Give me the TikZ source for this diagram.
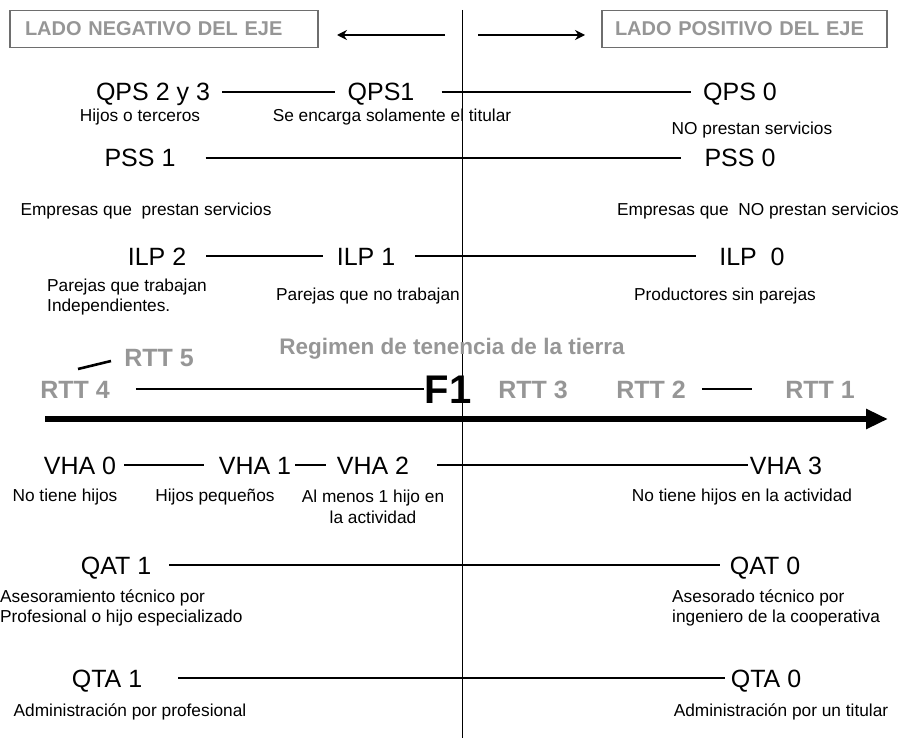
\documentclass[tikz,border=0pt]{standalone}
\usepackage{fontspec}
\setmainfont{Liberation Sans}
\usepackage{tikz}
\usetikzlibrary{arrows.meta}

\definecolor{axisgray}{RGB}{150,150,150}
\definecolor{boxgray}{RGB}{110,110,110}

\tikzset{
  big/.style={font=\fontsize{25}{30}\selectfont, text height=18pt, text depth=0pt, inner sep=0pt},
  rtt/.style={font=\fontsize{25}{30}\selectfont\bfseries, text=axisgray, text height=18pt, text depth=0pt, inner sep=0pt},
  note/.style={font=\fontsize{17.3}{20.5}\selectfont, inner sep=0pt, align=center},
  sidebox/.style={draw=boxgray, line width=1.3pt, font=\fontsize{20}{24}\selectfont\bfseries, text=axisgray, align=left, minimum height=37pt, inner ysep=0pt},
  link/.style={line width=2.6pt, shorten <=12pt, shorten >=12pt}
}

\begin{document}
\begin{tikzpicture}[x=1pt,y=-1pt]
\useasboundingbox (0,0) rectangle (902,738);

% cabecera
\node[sidebox, text width=278pt, inner xsep=15pt] (negbox) at (164,29) {LADO NEGATIVO DEL EJE};
\node[sidebox, text width=259pt, inner xsep=13pt] (posbox) at (744.5,29) {LADO POSITIVO DEL EJE};
\coordinate (lt) at (445,35); \coordinate (lh) at (337,35);
\coordinate (rt) at (478,35); \coordinate (rh) at (585,35);
\draw[line width=1.3pt, -{Stealth[length=10pt,width=10pt]}] (lt) -- (lh);
\draw[line width=1.3pt, -{Stealth[length=10pt,width=10pt]}] (rt) -- (rh);
\coordinate (vtop) at (462,10); \coordinate (vbot) at (462,738);
\draw[line width=1pt] (vtop) -- (vbot);

% QPS
\node[big] (qps23) at (153,92) {QPS 2 y 3};
\node[big] (qps1) at (381,92) {QPS1};
\node[big] (qps0) at (740,92) {QPS 0};
\draw[link] (qps23) -- (qps1);
\draw[link, shorten <=27pt] (qps1) -- (qps0);
\node[note] (qpsa) at (140,117) {Hijos o terceros};
\node[note] (qpsb) at (392,117) {Se encarga solamente el titular};
\node[note] (qpsc) at (752,130) {NO prestan servicios};

% PSS
\node[big] (pss1) at (140,158) {PSS 1};
\node[big] (pss0) at (740,158) {PSS 0};
\draw[link, shorten <=30pt, shorten >=23pt] (pss1) -- (pss0);
\node[note] (pssa) at (146,211) {Empresas que\ \ prestan servicios};
\node[note] (pssb) at (758,211) {Empresas que\ \ NO prestan servicios};

% ILP
\node[big] (ilp2) at (157,256) {ILP 2};
\node[big] (ilp1) at (366,256) {ILP 1};
\node[big] (ilp0) at (752,256) {ILP\ \ 0};
\draw[link, shorten <=20pt, shorten >=14pt] (ilp2) -- (ilp1);
\draw[link, shorten <=20pt, shorten >=23pt] (ilp1) -- (ilp0);
\node[note, anchor=west, align=left] (ilpa) at (47,297) {Parejas que trabajan\\Independientes.};
\node[note] (ilpb) at (368,296) {Parejas que no trabajan};
\node[note] (ilpc) at (725,296) {Productores sin parejas};

% RTT
\node[font=\fontsize{22.5}{26}\selectfont\bfseries, text=axisgray, inner sep=0pt] (reg) at (452,349) {Regimen de tenencia de la tierra};
\node[rtt] (rtt5) at (159,357) {RTT 5};
\node[rtt] (rtt4) at (75,389) {RTT 4};
\node[font=\fontsize{40}{44}\selectfont\bfseries, text height=29pt, text depth=0pt, inner sep=0pt] (f1) at (448,389) {F1};
\node[rtt] (rtt3) at (533,389) {RTT 3};
\node[rtt] (rtt2) at (651,389) {RTT 2};
\node[rtt] (rtt1) at (820,389) {RTT 1};
\coordinate (r5a) at (78,369); \coordinate (r5b) at (111,361);
\draw[line width=2.6pt] (r5a) -- (r5b);
\draw[link, shorten <=26pt, shorten >=0pt] (rtt4) -- (f1);
\draw[link, shorten <=16pt, shorten >=33pt] (rtt2) -- (rtt1);
\coordinate (axl) at (45,419); \coordinate (axr) at (888,419);
\draw[line width=6pt, -{Triangle[length=22pt,width=19pt]}] (axl) -- (axr);

% VHA
\node[big] (vha0) at (80,465) {VHA 0};
\node[big] (vha1) at (255,465) {VHA 1};
\node[big] (vha2) at (373,465) {VHA 2};
\node[big] (vha3) at (786,465) {VHA 3};
\draw[link, shorten <=8pt, shorten >=15pt] (vha0) -- (vha1);
\draw[link, shorten <=4pt, shorten >=11pt] (vha1) -- (vha2);
\draw[link, shorten <=28pt, shorten >=2pt] (vha2) -- (vha3);
\node[note] (vhaa) at (65,497) {No tiene hijos};
\node[note] (vhab) at (215,497) {Hijos pequeños};
\node[note] (vhac) at (373,507) {Al menos 1 hijo en\\la actividad};
\node[note] (vhad) at (742,497) {No tiene hijos en la actividad};

% QAT
\node[big] (qat1) at (116,565) {QAT 1};
\node[big] (qat0) at (765,565) {QAT 0};
\draw[link, shorten <=18pt, shorten >=10pt] (qat1) -- (qat0);
\node[note, anchor=west, align=left] (qata) at (0,608) {Asesoramiento técnico por\\Profesional o hijo especializado};
\node[note, anchor=west, align=left] (qatb) at (672,608) {Asesorado técnico por\\ingeniero de la cooperativa};

% QTA
\node[big] (qta1) at (107,678) {QTA 1};
\node[big] (qta0) at (766,678) {QTA 0};
\draw[link, shorten <=36pt, shorten >=6pt] (qta1) -- (qta0);
\node[note] (qtaa) at (130,712) {Administración por profesional};
\node[note] (qtab) at (781,712) {Administración por un titular};
\end{tikzpicture}
\end{document}
